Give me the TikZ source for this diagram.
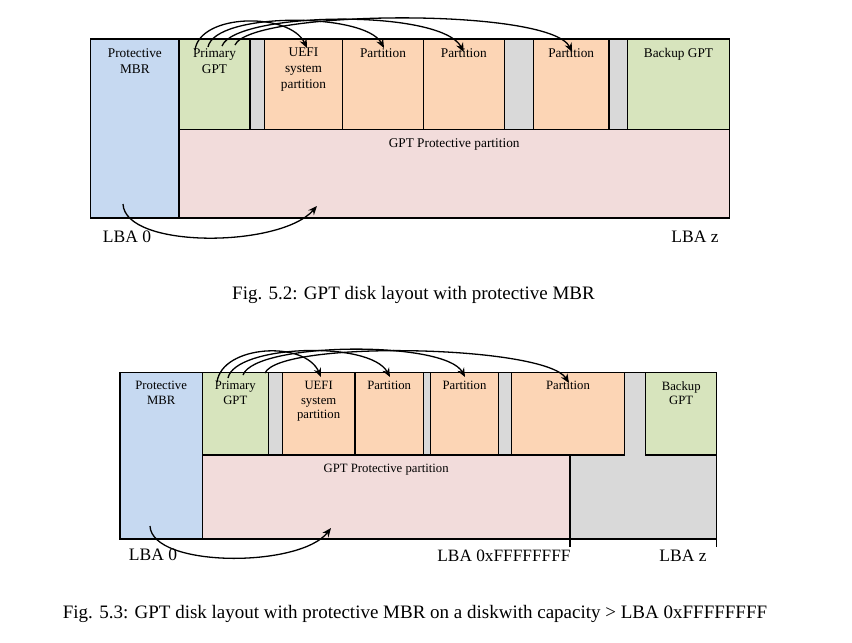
\documentclass[tikz,border=0pt]{standalone}
\usepackage{fontspec}
\setmainfont{Liberation Serif}
\usetikzlibrary{positioning,arrows.meta}

\definecolor{mbrblue}{HTML}{C6D9F1}
\definecolor{gptgreen}{HTML}{D7E4BD}
\definecolor{partorange}{HTML}{FCD5B5}
\definecolor{protpink}{HTML}{F2DCDB}
\definecolor{gapgray}{HTML}{D9D9D9}

\begin{document}
\begin{tikzpicture}[x=1pt, y=-1pt,
    blk/.style={draw, line width=1.4pt, inner sep=0pt, outer sep=0pt, anchor=north west},
    free/.style={fill=gapgray, inner sep=0pt, outer sep=0pt, anchor=north west},
    txt/.style={align=center, inner sep=0pt},
    arr/.style={-{Stealth[length=9pt,width=7.5pt]}, line width=1.3pt}]
  \tikzstyle{every node}=[font=\fontsize{13.3}{16}\selectfont]
  \useasboundingbox (0,0) rectangle (852,643);

  % upper layout
  \node[blk, fill=mbrblue, minimum width=88.3pt, minimum height=179pt] (mbrA) at (90.7,39) {};
  \node[blk, fill=gptgreen, minimum width=71pt, minimum height=90.3pt] (pgtA) at (179,39) {};
  \node[blk, fill=gapgray, minimum width=14.3pt, minimum height=90.3pt] (gapA1) at (250,39) {};
  \node[blk, fill=partorange, minimum width=78.4pt, minimum height=90.3pt] (uefiA) at (264.3,39) {};
  \node[blk, fill=partorange, minimum width=80.6pt, minimum height=90.3pt] (partA1) at (342.7,39) {};
  \node[blk, fill=partorange, minimum width=81pt, minimum height=90.3pt] (partA2) at (423.3,39) {};
  \node[blk, fill=gapgray, minimum width=29pt, minimum height=90.3pt] (gapA2) at (504.3,39) {};
  \node[blk, fill=partorange, minimum width=75.7pt, minimum height=90.3pt] (partA3) at (533.3,39) {};
  \node[blk, fill=gapgray, minimum width=18.7pt, minimum height=90.3pt] (gapA3) at (609,39) {};
  \node[blk, fill=gptgreen, minimum width=101.6pt, minimum height=90.3pt] (bgptA) at (627.7,39) {};
  \node[blk, fill=protpink, minimum width=550.3pt, minimum height=88.7pt] (protA) at (179,129.3) {};

  \node[txt, below=9pt of mbrA.north] (mbrAt) {Protective\\MBR};
  \node[txt, below=9pt of pgtA.north] (pgtAt) {Primary\\GPT};
  \node[txt, below=9pt of uefiA.north] (uefiAt) {UEFI\\system\\partition};
  \node[txt, below=9pt of partA1.north] (partA1t) {Partition};
  \node[txt, below=9pt of partA2.north] (partA2t) {Partition};
  \node[txt, below=9pt of partA3.north] (partA3t) {Partition};
  \node[txt, below=9pt of bgptA.north] (bgptAt) {Backup GPT};
  \node[txt, below=9pt of protA.north] (protAt) {GPT Protective partition};

  \node[font=\fontsize{17.5}{20}\selectfont] (lbaA0) at (127,237) {LBA 0};
  \node[font=\fontsize{17.5}{20}\selectfont] (lbaAz) at (695,237) {LBA z};
  \node[font=\fontsize{19}{22}\selectfont] (capA) at (413.5,295) {Fig. 5.2: GPT disk layout with protective MBR};

  \draw[arr] ([shift={(16,11)}]pgtA.north west) .. controls +(5,-37) and +(-17,-36) .. ([shift={(3.5,9)}]uefiA.north);
  \draw[arr] ([shift={(29,8)}]pgtA.north west) .. controls +(7,-35) and +(-19,-36) .. ([shift={(1,9)}]partA1.north);
  \draw[arr] ([shift={(43,7)}]pgtA.north west) .. controls +(13,-34) and +(-23,-44) .. ([shift={(0,13)}]partA2.north);
  \draw[arr] ([shift={(56,6)}]pgtA.north west) .. controls +(15,-35) and +(-22,-45) .. ([shift={(1,13)}]partA3.north);
  \draw[arr] ([shift={(32.3,-14)}]mbrA.south west) .. controls +(2,45) and +(-37,42) .. ([shift={(138,-12)}]protA.south west);

  % lower layout
  \node[free, minimum width=146.7pt, minimum height=84pt] (freeB) at (570,455) {};
  \node[free, minimum width=21.4pt, minimum height=83pt] (gapB4) at (624.3,372.3) {};
  \node[blk, fill=mbrblue, minimum width=82.3pt, minimum height=166.7pt] (mbrB) at (120,372.3) {};
  \node[blk, fill=gptgreen, minimum width=66pt, minimum height=82.7pt] (pgtB) at (202.3,372.3) {};
  \node[blk, fill=gapgray, minimum width=14pt, minimum height=82.7pt] (gapB1) at (268.3,372.3) {};
  \node[blk, fill=partorange, minimum width=72.7pt, minimum height=82.7pt] (uefiB) at (282.3,372.3) {};
  \node[blk, fill=partorange, minimum width=68.3pt, minimum height=82.7pt] (partB1) at (355,372.3) {};
  \node[blk, fill=gapgray, minimum width=7.4pt, minimum height=82.7pt] (gapB2) at (423.3,372.3) {};
  \node[blk, fill=partorange, minimum width=67.6pt, minimum height=82.7pt] (partB2) at (430.7,372.3) {};
  \node[blk, fill=gapgray, minimum width=13.4pt, minimum height=82.7pt] (gapB3) at (498.3,372.3) {};
  \node[blk, fill=partorange, minimum width=112.6pt, minimum height=82.7pt] (partB3) at (511.7,372.3) {};
  \node[blk, fill=gptgreen, minimum width=71pt, minimum height=82.7pt] (bgptB) at (645.7,372.3) {};
  \node[blk, fill=protpink, minimum width=367.7pt, minimum height=84pt] (protB) at (202.3,455) {};
  \draw[line width=1.4pt] (mbrB.north west) rectangle (mbrB.south -| bgptB.east);
  \draw[line width=1.4pt] (protB.south east) -- ++(0,8);
  \draw[line width=1.4pt] (mbrB.south -| bgptB.east) -- ++(0,8);

  \node[txt, font=\fontsize{12.7}{14.4}\selectfont, below=9pt of mbrB.north] (mbrBt) {Protective\\MBR};
  \node[txt, font=\fontsize{12.7}{14.4}\selectfont, below=9pt of pgtB.north] (pgtBt) {Primary\\GPT};
  \node[txt, font=\fontsize{12.7}{14.4}\selectfont, below=9pt of uefiB.north] (uefiBt) {UEFI\\system\\partition};
  \node[txt, font=\fontsize{12.7}{14.4}\selectfont, below=9pt of partB1.north] (partB1t) {Partition};
  \node[txt, font=\fontsize{12.7}{14.4}\selectfont, below=9pt of partB2.north] (partB2t) {Partition};
  \node[txt, font=\fontsize{12.7}{14.4}\selectfont, below=9pt of partB3.north] (partB3t) {Partition};
  \node[txt, font=\fontsize{12.7}{14.4}\selectfont, below=9pt of bgptB.north] (bgptBt) {Backup\\GPT};
  \node[txt, font=\fontsize{12.7}{14.4}\selectfont, below=8.5pt of protB.north] (protBt) {GPT Protective partition};

  \node[font=\fontsize{17.5}{20}\selectfont] (lbaB0) at (153,555) {LBA 0};
  \node[font=\fontsize{17.3}{20}\selectfont] (lbaBf) at (504,556) {LBA 0xFFFFFFFF};
  \node[font=\fontsize{17.5}{20}\selectfont] (lbaBz) at (683,556) {LBA z};
  \node[font=\fontsize{19}{22}\selectfont] (capB) at (415,614) {Fig. 5.3: GPT disk layout with protective MBR on a diskwith capacity > LBA 0xFFFFFFFF};

  \draw[arr] ([shift={(14.7,9.7)}]pgtB.north west) .. controls +(5,-37) and +(-16,-37) .. ([shift={(2.35,4.7)}]uefiB.north);
  \draw[arr] ([shift={(25.7,5.7)}]pgtB.north west) .. controls +(7,-33) and +(-20,-37) .. ([shift={(0.85,4.7)}]partB1.north);
  \draw[arr] ([shift={(40.7,2.7)}]pgtB.north west) .. controls +(12,-33) and +(-20,-37) .. ([shift={(0.5,4.7)}]partB2.north);
  \draw[arr] ([shift={(62.7,0.7)}]pgtB.north west) .. controls +(15,-33) and +(-24,-38) .. ([shift={(1,10.7)}]partB3.north);
  \draw[arr] ([shift={(30,-13)}]mbrB.south west) .. controls +(2,42) and +(-31,40) .. ([shift={(128.7,-11)}]protB.south west);
\end{tikzpicture}
\end{document}
